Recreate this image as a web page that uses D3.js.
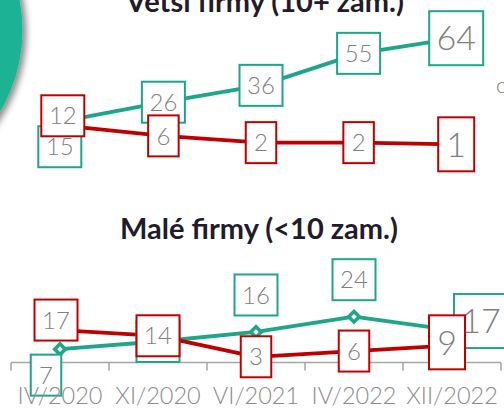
<!DOCTYPE html>
<meta charset='utf-8'>
<head>
<script src='https://d3js.org/d3.v7.min.js'></script>
<style>
  body{
    margin: 0;
    background: #fff;
    overflow: hidden;
  }
  svg{ display: block; }
  .title{
    font-family: 'Lato', sans-serif;
    font-weight: bold;
    fill: #231b2b;
    text-anchor: middle;
  }
  .val{
    font-family: 'Lato', sans-serif;
    font-weight: 300;
    fill: #808080;
    text-anchor: middle;
  }
  .tick-label{
    font-family: 'Lato', sans-serif;
    font-weight: 300;
    font-size: 23.5px;
    fill: #8c8c8c;
    text-anchor: middle;
  }
</style>
</head>
<body>
  <svg id="chart" width="504" height="408"></svg>
<script>

  var periods = ['IV/2020', 'XI/2020', 'VI/2021', 'IV/2022', 'XII/2022'];

  // Větší firmy (10+ zam.)
  var bigTeal = [15, 26, 36, 55, 64];
  var bigRed  = [12, 6, 2, 2, 1];

  // Malé firmy (<10 zam.)
  var smallTeal = [7, 11, 16, 24, 17];
  var smallRed  = [17, 14, 3, 6, 9];

  var teal = '#1ea58a',
      red = '#c00000';

  // hand-placed labels (offset from the point, like in the slide)
  var nudge = {
    'top-teal-0': [-6, 26],
    'top-red-0': [-3, -10],
    'bot-teal-0': [-14, 26],
    'bot-red-0': [-4, -10],
    'bot-teal-2': [0, -37],
    'bot-teal-3': [0, -37],
    'bot-teal-4': [29, -9],
    'bot-red-4': [-5, -3]
  };

  var svg = d3.select('#chart');

  var defs = svg.append('defs');
  var shadow = defs.append('filter')
      .attr('id', 'shadow')
      .attr('x', '-50%').attr('y', '-50%')
      .attr('width', '200%').attr('height', '200%');
  shadow.append('feDropShadow')
      .attr('dx', 4).attr('dy', 2)
      .attr('stdDeviation', 3)
      .attr('flood-color', '#000')
      .attr('flood-opacity', 0.45);

  // big teal circle on the left edge of the slide
  svg.append('circle')
      .attr('cx', -137.5)
      .attr('cy', 30)
      .attr('r', 160)
      .attr('fill', '#1ab394')
      .attr('filter', 'url(#shadow)');

  // scrap of text from the neighbouring slide element
  svg.append('text')
      .attr('x', 496).attr('y', 93)
      .attr('class', 'val')
      .style('text-anchor', 'start')
      .style('font-size', '22px')
      .text('c');

  // scales
  var xTop = d3.scaleBand().domain(periods).range([17, 505]);
  var xBot = d3.scaleBand().domain(periods).range([11, 501]);
  var yTop = d3.scaleLinear().domain([0, 64]).range([146, 38.2]);
  var yBot = d3.scaleLinear().domain([0, 24]).range([362.5, 316.7]);

  // titles
  svg.append('text')
      .attr('class', 'title')
      .attr('x', 265).attr('y', 12)
      .style('font-size', '29px')
      .text('Větší firmy (10+ zam.)');

  svg.append('text')
      .attr('class', 'title')
      .attr('x', 259).attr('y', 239)
      .style('font-size', '29px')
      .text('Malé firmy (<10 zam.)');

  // bottom axis
  var gAxis = svg.append('g');
  gAxis.append('line')
      .attr('x1', xBot.range()[0]).attr('x2', xBot.range()[1])
      .attr('y1', yBot(0)).attr('y2', yBot(0))
      .attr('stroke', '#a6a6a6').attr('stroke-width', 1.5);
  gAxis.selectAll('.tk')
      .data(periods.concat(['end']))
      .enter().append('line')
      .attr('x1', function(d) { return d === 'end' ? xBot.range()[1] : xBot(d); })
      .attr('x2', function(d) { return d === 'end' ? xBot.range()[1] : xBot(d); })
      .attr('y1', yBot(0)).attr('y2', yBot(0) + 8)
      .attr('stroke', '#a6a6a6').attr('stroke-width', 1.5);

  function drawChart(id, x, y, series) {
    var g = svg.append('g');
    var cx = function(d, i) { return x(periods[i]) + x.bandwidth() / 2; };

    var line = d3.line()
        .x(cx)
        .y(function(d) { return y(d); });

    series.forEach(function(s) {
      g.append('path')
          .datum(s.values)
          .attr('d', line)
          .attr('fill', 'none')
          .attr('stroke', s.color)
          .attr('stroke-width', 3.8)
          .attr('stroke-linejoin', 'round');
    });

    series.forEach(function(s) {
      if (!s.markers) return;
      g.selectAll('.mk-' + s.key)
          .data(s.values)
          .enter().append('path')
          .attr('d', d3.symbol().type(d3.symbolSquare).size(56))
          .attr('transform', function(d, i) {
            return 'translate(' + cx(d, i) + ',' + y(d) + ') rotate(45)';
          })
          .attr('fill', '#fff')
          .attr('stroke', s.color)
          .attr('stroke-width', 3.5);
    });

    // data labels: boxes with values, last one in bigger type
    series.forEach(function(s) {
      var lab = g.selectAll('.lb-' + s.key)
          .data(s.values)
          .enter().append('g')
          .attr('transform', function(d, i) {
            var n = nudge[id + '-' + s.key + '-' + i] || [0, 0];
            return 'translate(' + (cx(d, i) + n[0]) + ',' + (y(d) + n[1]) + ')';
          });

      lab.each(function(d, i) {
        var big = i === s.values.length - 1;
        var k = big ? 36 : 25;
        var digits = String(d).length;
        var w = k * 0.5 * digits + 18,
            h = big ? 54 : 41;
        var el = d3.select(this);
        el.append('rect')
            .attr('x', -w / 2).attr('y', -h / 2)
            .attr('width', w).attr('height', h)
            .attr('fill', '#fff')
            .attr('stroke', s.color)
            .attr('stroke-width', 2);
        el.append('text')
            .attr('class', 'val')
            .attr('dy', '0.36em')
            .style('font-size', (big ? 34 : 24) + 'px')
            .text(d);
      });
    });
  }

  drawChart('top', xTop, yTop, [
    {key: 'teal', values: bigTeal, color: teal, markers: false},
    {key: 'red', values: bigRed, color: red, markers: false}
  ]);

  drawChart('bot', xBot, yBot, [
    {key: 'teal', values: smallTeal, color: teal, markers: true},
    {key: 'red', values: smallRed, color: red, markers: false}
  ]);

  // category labels sit on top of everything
  svg.append('g').selectAll('text')
      .data(periods)
      .enter().append('text')
      .attr('class', 'tick-label')
      .attr('x', function(d) { return xBot(d) + xBot.bandwidth() / 2; })
      .attr('y', 404)
      .text(function(d) { return d; });

</script>
</body>
